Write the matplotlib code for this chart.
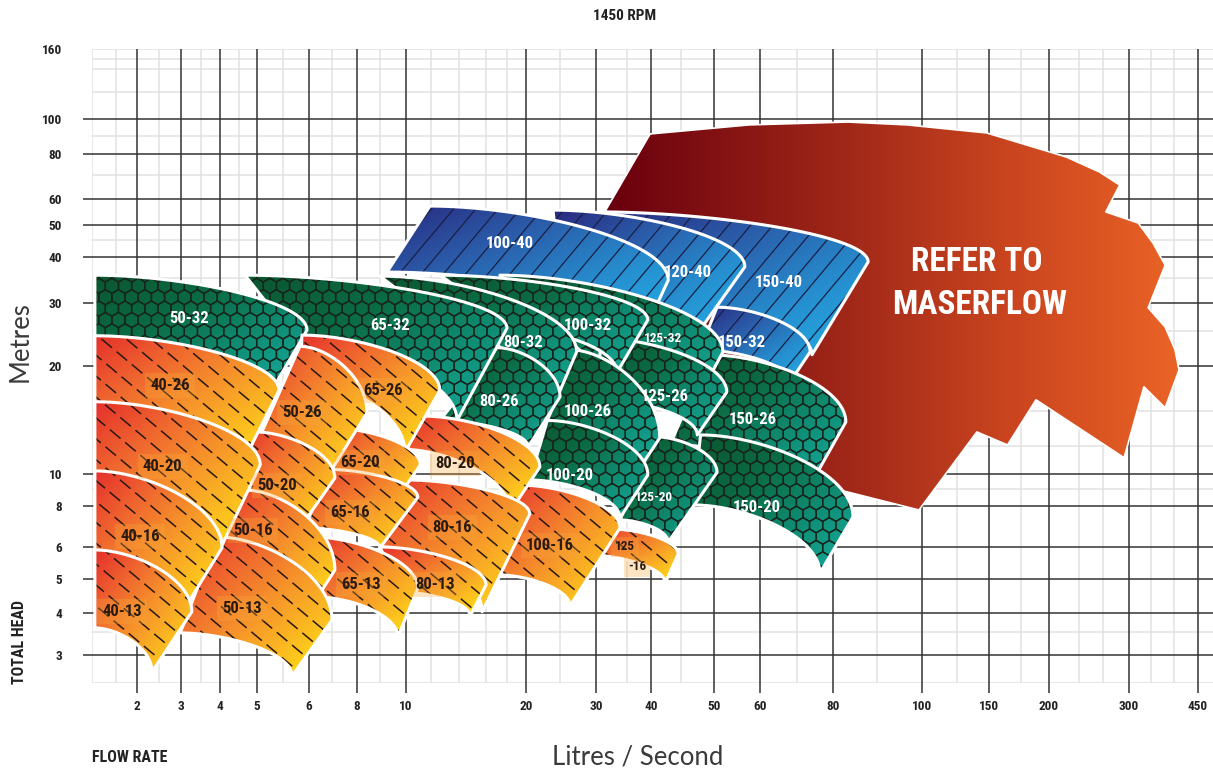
import numpy as np
import matplotlib
matplotlib.use("Agg")
import matplotlib.pyplot as plt
from matplotlib import font_manager
from matplotlib.patches import Polygon
from matplotlib.collections import PolyCollection, LineCollection
from matplotlib.colors import LinearSegmentedColormap
from matplotlib.transforms import IdentityTransform

# the printed flow axis is hand spaced (not a true log), so the scale is built
# from the grid lines: value -> pixel column / row
FLOW_KNOTS = [1, 1.5, 2, 2.5, 3, 3.5, 4, 4.5, 5, 5.5, 6, 7, 8, 9, 10, 12, 14, 16, 18, 20,
              25, 30, 35, 40, 45, 50, 60, 70, 80, 90, 100, 125, 150, 175, 200, 240, 260,
              300, 350, 400, 450, 500]
FLOW_KNOT_PX = [92, 116, 137, 159, 181, 201, 220, 239, 257, 283, 309, 332, 357, 380, 406,
                431, 459, 486, 507, 526, 560, 596, 627, 651, 681, 714, 760, 797, 833, 877,
                922, 957, 989, 1021, 1049, 1079, 1103, 1129, 1151, 1174, 1198, 1213]
HEAD_KNOTS = [2.5, 3, 4, 5, 6, 8, 10, 20, 30, 40, 50, 60, 80, 100, 160]
HEAD_KNOT_PX = [683, 655, 613, 579, 547, 506, 474, 366, 303, 257, 225, 199, 154, 119, 49]

FLOW_TICKS = [2, 3, 4, 5, 6, 8, 10, 20, 30, 40, 50, 60, 80, 100, 150, 200, 300, 450]
FLOW_MINOR = [1, 1.5, 2.5, 3.5, 4.5, 5.5, 7, 9, 12, 14, 16, 18, 25, 35, 45, 70, 90, 125,
              175, 240, 260, 350, 400]
HEAD_TICKS = [3, 4, 5, 6, 8, 10, 20, 30, 40, 50, 60, 80, 100, 160]
HEAD_MINOR = [2.5, 3.5, 9, 12, 15, 25, 35, 45, 70, 90, 120, 140, 150]

# pump tiles: (flow l/s, head m) at top-left, top-right, bottom-right, bottom-left
BLUE_TILES = {
    "150-40": [(30.6, 54.8), (87.9, 38.8), (74.0, 21.5), (47.8, 28.7)],
    "150-32": [(50.6, 29.2), (73.5, 21.9), (68.0, 18.05), (47.8, 22.2)],
    "120-40": [(23.9, 55.5), (56.5, 37.6), (47.8, 25.2), (25.0, 32.5)],
    "100-40": [(11.9, 57.1), (42.8, 34.6), (38.7, 25.2), (9.26, 36.4)],
}
GREEN_TILES = {
    "150-26": [(49.2, 21.5), (82.8, 13.96), (74.0, 9.46), (43.1, 12.05)],
    "150-20": [(47.9, 12.85), (84.4, 7.41), (76.2, 5.17), (46.8, 8.06)],
    "125-32": [(17.3, 35.7), (51.8, 21.9), (47.8, 16.6), (29.1, 20.8)],
    "125-26": [(30.6, 23.9), (52.6, 16.9), (47.4, 12.85), (30.6, 16.1)],
    "125-20": [(40.6, 12.7), (50.6, 10.1), (42.8, 6.21), (33.8, 7.25)],
    "100-32": [(12.6, 35.7), (39.3, 26.9), (33.3, 19.2), (19.3, 25.2)],
    "100-26": [(26.3, 22.2), (41.4, 12.6), (37.6, 10.4), (21.9, 13.7)],
    "100-20": [(23.0, 14.1), (39.3, 9.93), (33.8, 7.36), (20.5, 9.59)],
    "80-32": [(9.0, 35.5), (27.2, 21.9), (23.0, 14.1), (13.3, 25.2)],
    "80-26": [(17.0, 22.5), (25.0, 16.4), (20.3, 11.9), (12.6, 14.1)],
    "65-32": [(4.66, 35.7), (18.0, 25.5), (13.85, 14.1), (5.82, 22.9)],
    "50-32": [(1.05, 35.7), (5.96, 25.2), (5.34, 17.7), (1.05, 22.9)],
}
ORANGE_TILES = {
    "125-16": [(32.5, 6.8), (44.5, 5.76), (42.3, 4.87), (29.1, 5.73)],
    "100-16": [(19.3, 9.26), (33.8, 6.86), (26.3, 4.19), (17.1, 5.12)],
    "80-20": [(11.3, 14.5), (21.9, 10.45), (18.3, 7.67), (9.96, 11.7)],
    "80-16": [(10.07, 9.59), (20.5, 7.56), (15.7, 4.03), (9.0, 6.0)],
    "80-13": [(9.0, 6.0), (16.0, 4.81), (14.8, 3.92), (9.76, 4.59)],
    "65-26": [(5.86, 24.4), (12.6, 17.1), (9.96, 11.5), (5.82, 18.3)],
    "65-20": [(7.11, 13.4), (11.1, 10.6), (9.56, 8.22), (6.46, 10.3)],
    "65-16": [(6.81, 10.3), (10.9, 8.5), (9.0, 5.97), (5.92, 6.86)],
    "65-13": [(6.12, 6.44), (10.9, 4.71), (9.68, 3.40), (6.37, 4.44)],
    "50-26": [(5.82, 22.7), (8.42, 14.8), (6.91, 10.1), (5.02, 12.4)],
    "50-20": [(4.94, 13.1), (7.11, 9.72), (5.82, 6.86), (4.53, 8.63)],
    "50-16": [(4.66, 8.94), (7.11, 5.26), (5.98, 4.03), (3.86, 6.30)],
    "50-13": [(3.92, 6.44), (7.0, 3.81), (5.67, 2.62), (2.98, 3.49)],
    "40-26": [(1.05, 24.3), (5.42, 17.1), (4.61, 10.8), (1.05, 15.1)],
    "40-20": [(1.05, 15.9), (5.06, 10.6), (4.05, 6.07), (1.05, 9.59)],
    "40-16": [(1.05, 10.2), (4.05, 5.97), (3.09, 4.13), (1.05, 5.64)],
    "40-13": [(1.05, 5.90), (3.26, 4.03), (2.33, 2.69), (1.05, 3.61)],
}

# "refer to maserflow" region outline
MASERFLOW_FLOW = [39.8, 57.4, 83.3, 96.6, 148, 222, 257, 285, 264, 320, 354, 380, 343, 380,
                  402, 410, 380, 333, 292, 188, 164, 140, 99.3, 74, 51.2, 37.6, 31.5]
MASERFLOW_HEAD = [90.9, 96.3, 98.1, 96.3, 91.5, 78.5, 71.3, 65.6, 54.8, 50.7, 44.1, 38.0, 29.1,
                  25.7, 22.2, 19.5, 15.3, 17.5, 11.1, 16.1, 12.05, 13.1, 7.78, 9.39, 16.1, 30.6, 55.5]

# (tile, text, flow, head)
TILE_LABELS = [
    ("40-26", "40-26", 2.74, 17.7), ("40-20", "40-20", 2.58, 10.5),
    ("40-16", "40-16", 2.06, 6.44), ("40-13", "40-13", 1.63, 4.03),
    ("50-32", "50-32", 3.19, 27.2), ("50-26", "50-26", 5.86, 14.8),
    ("50-20", "50-20", 5.38, 9.26), ("50-16", "50-16", 4.88, 6.76),
    ("50-13", "50-13", 4.58, 4.13), ("65-32", "65-32", 9.37, 26.0),
    ("65-26", "65-26", 9.11, 17.1), ("65-20", "65-20", 8.12, 10.8),
    ("65-16", "65-16", 7.71, 7.62), ("65-13", "65-13", 8.17, 4.81),
    ("80-32", "80-32", 19.7, 23.3), ("80-26", "80-26", 17.2, 15.9),
    ("80-20", "80-20", 13.7, 10.7), ("80-16", "80-16", 13.5, 6.86),
    ("80-13", "80-13", 12.3, 4.81), ("100-40", "100-40", 18.3, 43.8),
    ("100-32", "100-32", 28.8, 26.0), ("100-26", "100-26", 28.7, 14.9),
    ("100-20", "100-20", 26.3, 9.93), ("100-16", "100-16", 23.4, 6.07),
    ("120-40", "120-40", 46.0, 36.4), ("125-32", "125-32", 41.9, 23.9),
    ("125-26", "125-26", 42.3, 16.4), ("125-20", "125-20", 40.5, 8.5),
    ("125-16", "125", 34.7, 6.0), ("125-16", "-16", 37.0, 5.38),
    ("150-40", "150-40", 64.9, 34.2), ("150-32", "150-32", 55.9, 23.2),
    ("150-26", "150-26", 58.4, 14.2), ("150-20", "150-20", 59.3, 7.94),
]
SMALL_LABELS = {"125-32", "125-20", "125", "-16"}

available = {f.name for f in font_manager.fontManager.ttflist}


def first_font(*names):
    for n in names:
        if n in available:
            return n
    return "DejaVu Sans"


NARROW = first_font("Liberation Sans Narrow", "Roboto Condensed", "DejaVu Sans Condensed",
                    "Liberation Sans")
THIN = first_font("Lato", "Open Sans", "Roboto")

# scale functions
lfk = np.log10(FLOW_KNOTS)
fpx = np.array(FLOW_KNOT_PX, float)
lhk = np.log10(HEAD_KNOTS)
hpx = -np.array(HEAD_KNOT_PX, float)


def flow_fwd(v):
    v = np.clip(np.asarray(v, float), 1e-3, None)
    return np.interp(np.log10(v), lfk, fpx)


def flow_inv(p):
    return 10 ** np.interp(np.asarray(p, float), fpx, lfk)


def head_fwd(v):
    v = np.clip(np.asarray(v, float), 1e-3, None)
    return np.interp(np.log10(v), lhk, hpx)


def head_inv(p):
    return 10 ** np.interp(np.asarray(p, float), hpx, lhk)


GRID_DARK = "#333333"
GRID_LIGHT = "#e1e1e1"

fig = plt.figure(figsize=(12.13, 7.76), dpi=100)
ax = fig.add_axes([92 / 1213, 93 / 776, 1121 / 1213, 634 / 776])
ax.set_xscale("function", functions=(flow_fwd, flow_inv))
ax.set_yscale("function", functions=(head_fwd, head_inv))
ax.set_xlim(FLOW_KNOTS[0], FLOW_KNOTS[-1])
ax.set_ylim(HEAD_KNOTS[0], HEAD_KNOTS[-1])
ax.set_autoscale_on(False)
for s in ax.spines.values():
    s.set_visible(False)

for v in FLOW_MINOR:
    ax.axvline(v, color=GRID_LIGHT, lw=1.1, zorder=0.5)
for v in HEAD_MINOR + [HEAD_TICKS[-1]]:
    ax.axhline(v, color=GRID_LIGHT, lw=1.1, zorder=0.5)
for v in FLOW_TICKS:
    ax.axvline(v, color=GRID_DARK, lw=1.1, zorder=1)
for v in HEAD_TICKS[:-1]:
    ax.axhline(v, color=GRID_DARK, lw=1.1, zorder=1)

ax.set_xticks(FLOW_TICKS, [f"{v:g}" for v in FLOW_TICKS], fontsize=9.5,
              fontweight="bold", family=NARROW, color="#222222")
ax.set_yticks(HEAD_TICKS, [f"{v:g}" for v in HEAD_TICKS], fontsize=9.5,
              fontweight="bold", family=NARROW, color="#222222")
ax.minorticks_off()
ax.tick_params(axis="x", length=7.2, width=1.1, color=GRID_DARK, pad=5)
ax.tick_params(axis="y", length=6.5, width=1.1, color=GRID_DARK, pad=15)
ax.yaxis.get_major_ticks()[-1].tick1line.set_visible(False)

CMAPS = {
    "orange": LinearSegmentedColormap.from_list(
        "o", [(0, "#e5302c"), (0.3, "#f06a2f"), (0.55, "#f7982a"), (0.8, "#fcc41e"), (1, "#fff000")]),
    "green": LinearSegmentedColormap.from_list(
        "g", [(0, "#0a5630"), (0.35, "#0b6b44"), (0.7, "#10917a"), (1, "#17ab9b")]),
    "blue": LinearSegmentedColormap.from_list(
        "b", [(0, "#29297e"), (0.35, "#2b5eab"), (0.7, "#2690d0"), (1, "#23aee5")]),
    "red": LinearSegmentedColormap.from_list(
        "r", [(0, "#6a000e"), (0.4, "#9e2618"), (0.7, "#c9441f"), (1, "#ea6326")]),
}
u = np.linspace(0, 1, 96)
DIAG = (u[None, :] + (1 - u[:, None])) / 2
HORIZ = np.tile(u, (96, 1))


def bezier(p0, p3, a=0.4, c=0.45, n=40):
    p1 = np.array([p0[0] + a * (p3[0] - p0[0]), p0[1]])
    p2 = np.array([p3[0], p0[1] + c * (p3[1] - p0[1])])
    t = np.linspace(0, 1, n)[:, None]
    return (1 - t) ** 3 * p0 + 3 * (1 - t) ** 2 * t * p1 + 3 * (1 - t) * t ** 2 * p2 + t ** 3 * p3


def tile_outline(corners):
    tl, tr, br, bl = [np.array([flow_fwd(x), head_fwd(y)]) for x, y in corners]
    pts = np.vstack([bezier(tl, tr), bezier(bl, br)[::-1]])
    return np.column_stack([flow_inv(pts[:, 0]), head_inv(pts[:, 1])])


def line_segments(box, angle, spacing):
    x0, y0, x1, y1 = box
    a = np.deg2rad(angle)
    d = np.array([np.cos(a), np.sin(a)])
    nrm = np.array([-np.sin(a), np.cos(a)])
    cs = np.array([[x0, y0], [x1, y0], [x0, y1], [x1, y1]])
    proj = cs @ nrm
    half = np.hypot(x1 - x0, y1 - y0)
    mid = cs.mean(0)
    segs = []
    for k in range(int(np.floor(proj.min() / spacing)), int(np.ceil(proj.max() / spacing)) + 1):
        p = mid + (k * spacing - mid @ nrm) * nrm
        segs.append([p - d * half, p + d * half])
    return segs


def hex_cells(box, r=7.6):
    x0, y0, x1, y1 = box
    w, h = np.sqrt(3) * r, 1.5 * r
    ang = np.deg2rad(30 + 60 * np.arange(6))
    shape = np.column_stack([r * np.cos(ang), r * np.sin(ang)])
    cells = []
    for j in range(int(np.floor(y0 / h)) - 1, int(np.ceil(y1 / h)) + 2):
        off = (j % 2) * w / 2
        for i in range(int(np.floor((x0 - off) / w)) - 1, int(np.ceil((x1 - off) / w)) + 2):
            cells.append(shape + [i * w + off, j * h])
    return cells


def draw_region(verts, kind, z, grad=DIAG, pattern=None, edge_lw=2.2):
    clip = Polygon(verts, closed=True, facecolor="none", edgecolor="none", zorder=z)
    ax.add_patch(clip)
    disp = ax.transData.transform(verts)
    x0, y0 = disp.min(0)
    x1, y1 = disp.max(0)
    im = ax.imshow(grad, cmap=CMAPS[kind], vmin=0, vmax=1, extent=(x0, x1, y0, y1),
                   origin="lower", aspect="auto", interpolation="bilinear",
                   transform=IdentityTransform(), zorder=z)
    im.set_clip_path(clip)
    box = (x0, y0, x1, y1)
    art = None
    if pattern == "hex":
        art = PolyCollection(hex_cells(box), facecolors="none", edgecolors="#17261c",
                             linewidths=1.0, transform=IdentityTransform(), zorder=z + 0.01)
    elif pattern == "back":
        art = LineCollection(line_segments(box, -40, 16), colors="#2a1810", linewidths=1.1,
                             linestyles=[(0, (9, 4))], transform=IdentityTransform(),
                             zorder=z + 0.01)
    elif pattern == "fwd":
        art = LineCollection(line_segments(box, 50, 17), colors="#1b1f45", linewidths=0.9,
                             transform=IdentityTransform(), zorder=z + 0.01)
    if art is not None:
        ax.add_collection(art, autolim=False)
        art.set_clip_path(clip)
    ax.add_patch(Polygon(verts, closed=True, fill=False, edgecolor="white", lw=edge_lw,
                         joinstyle="round", zorder=z + 0.02))


draw_region(np.column_stack([MASERFLOW_FLOW, MASERFLOW_HEAD]), "red", 2, grad=HORIZ,
            edge_lw=1.2)

z = 3.0
for tiles, kind, pat in [(BLUE_TILES, "blue", "fwd"), (GREEN_TILES, "green", "hex"),
                         (ORANGE_TILES, "orange", "back")]:
    for name, corners in tiles.items():
        draw_region(tile_outline(corners), kind, z, pattern=pat)
        z += 0.1

for tile, text, fx, hy in TILE_LABELS:
    dark = tile in ORANGE_TILES
    size = 9.5 if text in SMALL_LABELS else 12
    box = dict(boxstyle="square,pad=0.3", fc="#f9a93a", ec="none", alpha=0.3) if dark else None
    ax.text(fx, hy, text, ha="center", va="center", fontsize=size, fontweight="bold",
            family=NARROW, color="#2a1a10" if dark else "white", bbox=box, zorder=60)

ax.text(140, 38.8, "REFER TO", ha="center", va="center", fontsize=24, fontweight="bold",
        family=NARROW, color="white", zorder=60)
ax.text(142.5, 29.6, "MASERFLOW", ha="center", va="center", fontsize=24, fontweight="bold",
        family=NARROW, color="white", zorder=60)

fig.text(625 / 1213, 1 - 16 / 776, "1450 RPM", ha="center", va="center", fontsize=11,
         fontweight="bold", family=NARROW, color="#222222")
fig.text(20 / 1213, 1 - 342 / 776, "Metres", rotation=90, ha="center", va="center",
         fontsize=18.5, family=THIN, color="#3a3a3a")
fig.text(20 / 1213, 1 - 642 / 776, "TOTAL HEAD", rotation=90, ha="center", va="center",
         fontsize=11.5, fontweight="bold", family=NARROW, color="#222222")
fig.text(130 / 1213, 1 - 757 / 776, "FLOW RATE", ha="center", va="center", fontsize=11.5,
         fontweight="bold", family=NARROW, color="#222222")
fig.text(638 / 1213, 1 - 757 / 776, "Litres / Second", ha="center", va="center",
         fontsize=18.5, family=THIN, color="#3a3a3a")

fig.savefig("out.png", dpi=100)
